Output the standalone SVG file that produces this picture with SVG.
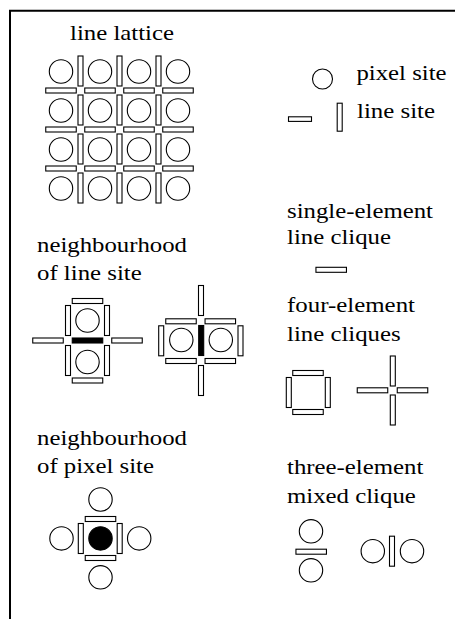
<svg xmlns="http://www.w3.org/2000/svg" xmlns:xlink="http://www.w3.org/1999/xlink" width="455" height="619" viewBox="0 0 455 619">
<style>
.t{font-family:"Liberation Serif","Times New Roman",serif;font-size:22px;fill:#000}
.o{fill:#fff;stroke:#000;stroke-width:1.1}
.k{fill:#000;stroke:#000;stroke-width:1.1}
</style>
<defs>
<rect id="h" x="-15.25" y="-2.5" width="30.5" height="5" class="o"/>
<rect id="v" x="-2.5" y="-15" width="5" height="30" class="o"/>
<rect id="hk" x="-15.25" y="-2.5" width="30.5" height="5" class="k"/>
<rect id="vk" x="-2.5" y="-15" width="5" height="30" class="k"/>
<circle id="c" r="11.7" class="o"/>
</defs>
<rect width="455" height="619" fill="#fff"/>
<path d="M10,619V10.8H455" fill="none" stroke="#000" stroke-width="2"/>

<g id="lattice">
<text class="t" x="70" y="40" textLength="104" lengthAdjust="spacingAndGlyphs">line lattice</text>
<use href="#c" x="61" y="71.5"/><use href="#c" x="100" y="71.5"/><use href="#c" x="139" y="71.5"/><use href="#c" x="178" y="71.5"/>
<use href="#c" x="61" y="110.5"/><use href="#c" x="100" y="110.5"/><use href="#c" x="139" y="110.5"/><use href="#c" x="178" y="110.5"/>
<use href="#c" x="61" y="149.5"/><use href="#c" x="100" y="149.5"/><use href="#c" x="139" y="149.5"/><use href="#c" x="178" y="149.5"/>
<use href="#c" x="61" y="188.5"/><use href="#c" x="100" y="188.5"/><use href="#c" x="139" y="188.5"/><use href="#c" x="178" y="188.5"/>
<use href="#v" x="80.5" y="71"/><use href="#v" x="119.5" y="71"/><use href="#v" x="158.5" y="71"/>
<use href="#v" x="80.5" y="110"/><use href="#v" x="119.5" y="110"/><use href="#v" x="158.5" y="110"/>
<use href="#v" x="80.5" y="149"/><use href="#v" x="119.5" y="149"/><use href="#v" x="158.5" y="149"/>
<use href="#v" x="80.5" y="188"/><use href="#v" x="119.5" y="188"/><use href="#v" x="158.5" y="188"/>
<use href="#h" x="61" y="90.5"/><use href="#h" x="100" y="90.5"/><use href="#h" x="139" y="90.5"/><use href="#h" x="178" y="90.5"/>
<use href="#h" x="61" y="129.5"/><use href="#h" x="100" y="129.5"/><use href="#h" x="139" y="129.5"/><use href="#h" x="178" y="129.5"/>
<use href="#h" x="61" y="168.5"/><use href="#h" x="100" y="168.5"/><use href="#h" x="139" y="168.5"/><use href="#h" x="178" y="168.5"/>
</g>

<g id="legend">
<circle cx="322.5" cy="79" r="10" class="o"/>
<text class="t" x="356.5" y="80" textLength="90" lengthAdjust="spacingAndGlyphs">pixel site</text>
<rect x="288.5" y="116.8" width="23" height="4.6" class="o"/>
<rect x="337.2" y="103.2" width="5" height="28" class="o"/>
<text class="t" x="357" y="117.5" textLength="78" lengthAdjust="spacingAndGlyphs">line site</text>
</g>

<g id="single-clique">
<text class="t" x="287" y="218.3" textLength="146" lengthAdjust="spacingAndGlyphs">single-element</text>
<text class="t" x="287" y="244" textLength="104" lengthAdjust="spacingAndGlyphs">line clique</text>
<use href="#h" x="331.2" y="269.8"/>
</g>

<g id="line-neighbourhood">
<text class="t" x="37" y="251.8" textLength="150" lengthAdjust="spacingAndGlyphs">neighbourhood</text>
<text class="t" x="37" y="280" textLength="104.7" lengthAdjust="spacingAndGlyphs">of line site</text>
<use href="#h" x="87.5" y="301"/>
<use href="#v" x="68" y="320.5"/><use href="#v" x="107" y="320.5"/>
<use href="#c" x="87.5" y="320.5"/>
<use href="#h" x="48" y="340.5"/><use href="#hk" x="87.5" y="340.5"/><use href="#h" x="127" y="340.5"/>
<use href="#v" x="68" y="360.5"/><use href="#v" x="107" y="360.5"/>
<use href="#c" x="87.5" y="362"/>
<use href="#h" x="87.5" y="380.5"/>
</g>

<g id="line-neighbourhood-2">
<use href="#v" x="201" y="300.5"/>
<use href="#h" x="181" y="321.3"/><use href="#h" x="220.3" y="321.3"/>
<use href="#v" x="161.2" y="340.8"/><use href="#vk" x="201.2" y="340.5"/><use href="#v" x="240.5" y="340.8"/>
<use href="#c" x="181.3" y="340"/><use href="#c" x="220.8" y="340"/>
<use href="#h" x="181" y="361"/><use href="#h" x="220.3" y="361"/>
<use href="#v" x="201" y="380.5"/>
</g>

<g id="four-cliques">
<text class="t" x="287" y="311.7" textLength="128" lengthAdjust="spacingAndGlyphs">four-element</text>
<text class="t" x="287" y="341" textLength="113.7" lengthAdjust="spacingAndGlyphs">line cliques</text>
<use href="#h" x="308" y="373"/>
<use href="#v" x="288.8" y="392.5"/><use href="#v" x="327.8" y="392.5"/>
<use href="#h" x="308" y="412"/>
<use href="#v" x="392.8" y="371"/>
<use href="#h" x="372.5" y="390.3"/><use href="#h" x="412.5" y="390.3"/>
<use href="#v" x="392.8" y="410"/>
</g>

<g id="pixel-neighbourhood">
<text class="t" x="37" y="445" textLength="150" lengthAdjust="spacingAndGlyphs">neighbourhood</text>
<text class="t" x="37" y="473" textLength="117" lengthAdjust="spacingAndGlyphs">of pixel site</text>
<use href="#c" x="100.5" y="499.5"/>
<use href="#h" x="100.5" y="519"/>
<use href="#c" x="61.5" y="538.4"/>
<use href="#v" x="80.8" y="538.5"/>
<circle cx="100.5" cy="538.4" r="11.7" class="k"/>
<use href="#v" x="119.7" y="538.5"/>
<use href="#c" x="139.2" y="538.4"/>
<use href="#h" x="100.5" y="558"/>
<use href="#c" x="100.5" y="577.3"/>
</g>

<g id="mixed-clique">
<text class="t" x="287" y="474.3" textLength="136.4" lengthAdjust="spacingAndGlyphs">three-element</text>
<text class="t" x="287" y="503" textLength="128.8" lengthAdjust="spacingAndGlyphs">mixed clique</text>
<use href="#c" x="311" y="531.3"/>
<use href="#h" x="311.2" y="551.7"/>
<use href="#c" x="311" y="570.3"/>
<use href="#c" x="372.8" y="551.2"/>
<use href="#v" x="392" y="551.2"/>
<use href="#c" x="412" y="551.2"/>
</g>
</svg>
